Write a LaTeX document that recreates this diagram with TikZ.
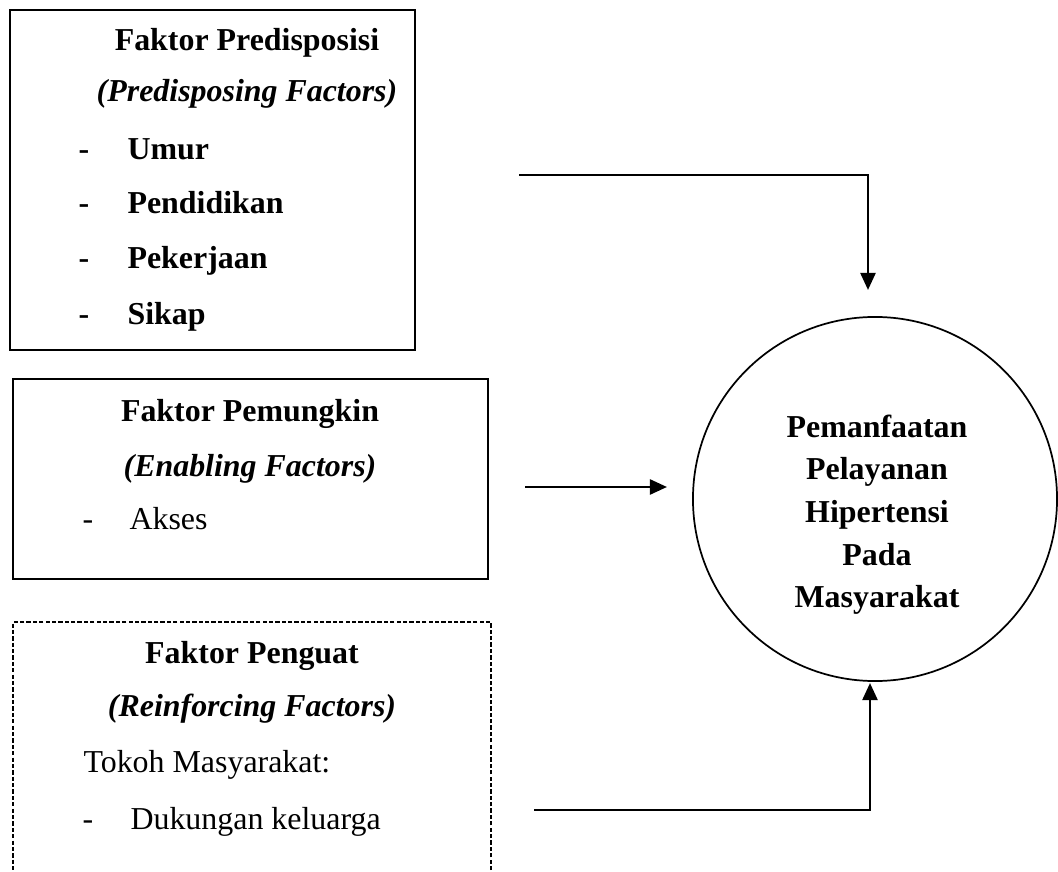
\documentclass[tikz,border=0pt]{standalone}
\usepackage{fontspec}
\setmainfont{Liberation Serif}
\usepackage{tikz}
\usetikzlibrary{arrows.meta,positioning,fit}
\newcommand{\ukuranteks}{\fontsize{12}{14}\selectfont}
\tikzset{
  kotak/.style={draw=black, line width=0.6pt, inner sep=0pt},
  kotakputus/.style={kotak, line width=0.65pt, dash pattern=on 1.6pt off 0.8pt},
  lingkar/.style={draw=black, line width=0.65pt, circle, minimum size=136.9pt, inner sep=0pt},
  judul/.style={font=\ukuranteks\bfseries, anchor=base, inner sep=0pt},
  subjudul/.style={font=\ukuranteks\bfseries\itshape, anchor=base, inner sep=0pt},
  butir/.style={font=\ukuranteks, anchor=base west, inner sep=0pt},
  butirtebal/.style={butir, font=\ukuranteks\bfseries},
  panah/.style={-{Triangle[length=6.4pt,width=5.6pt]}, draw=black, line width=1pt}
}

\begin{document}
\begin{tikzpicture}[x=0.376pt,y=-0.376pt]
  \clip (0,0) rectangle (1058,872);
  % faktor predisposisi
  \node[kotak, fit={(10,10) (415,350)}] (pre) {};
  \node[judul] (preJudul) at (247,51) {Faktor Predisposisi};
  \node[subjudul] (preSub) at (247,102) {(Predisposing Factors)};
  \node[butirtebal] (preD1) at (78,160) {-};
  \node[butirtebal] (preUmur) at (127,160) {Umur};
  \node[butirtebal] (preD2) at (78,214) {-};
  \node[butirtebal] (prePend) at (127,214) {Pendidikan};
  \node[butirtebal] (preD3) at (78,269) {-};
  \node[butirtebal] (prePek) at (127,269) {Pekerjaan};
  \node[butirtebal] (preD4) at (78,325) {-};
  \node[butirtebal] (preSikap) at (127,325) {Sikap};
  % faktor pemungkin
  \node[kotak, fit={(13,379) (488,579)}] (pem) {};
  \node[judul] (pemJudul) at (250,422) {Faktor Pemungkin};
  \node[subjudul] (pemSub) at (250,477) {(Enabling Factors)};
  \node[butir] (pemD1) at (82,530) {-};
  \node[butir] (pemAkses) at (129,530) {Akses};
  % faktor penguat
  \node[kotakputus, fit={(13,622) (491,890)}] (peng) {};
  \node[judul] (pengJudul) at (252,663) {Faktor Penguat};
  \node[subjudul] (pengSub) at (252,717) {(Reinforcing Factors)};
  \node[butir] (pengTokoh) at (83,773) {Tokoh Masyarakat:};
  \node[butir] (pengD1) at (82,829) {-};
  \node[butir] (pengDuk) at (130,829) {Dukungan keluarga};
  % pemanfaatan pelayanan
  \node[lingkar] (hasil) at (875,499) {};
  \node[judul] (hasil1) at (877,438) {Pemanfaatan};
  \node[judul] (hasil2) at (877,480) {Pelayanan};
  \node[judul] (hasil3) at (877,523) {Hipertensi};
  \node[judul] (hasil4) at (877,566) {Pada};
  \node[judul] (hasil5) at (877,608) {Masyarakat};
  % panah
  \coordinate (preOut) at (519,175);
  \coordinate (preIn) at (868,290);
  \coordinate (pemOut) at (525,487);
  \coordinate (pemIn) at (667,487);
  \coordinate (pengOut) at (534,810);
  \coordinate (pengIn) at (870,683);
  \draw[panah] (preOut) -| (preIn);
  \draw[panah] (pemOut) -- (pemIn);
  \draw[panah] (pengOut) -| (pengIn);
\end{tikzpicture}
\end{document}
